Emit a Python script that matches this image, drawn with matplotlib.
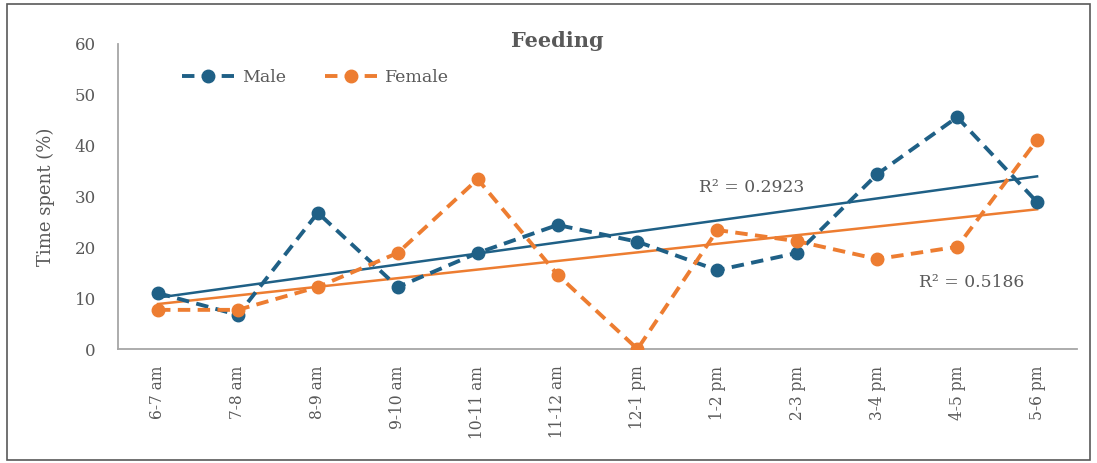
import numpy as np
import matplotlib.pyplot as plt
from matplotlib.patches import Rectangle

hours = ["6-7 am", "7-8 am", "8-9 am", "9-10 am", "10-11 am", "11-12 am",
         "12-1 pm", "1-2 pm", "2-3 pm", "3-4 pm", "4-5 pm", "5-6 pm"]
male = [11.0, 6.7, 26.8, 12.2, 18.9, 24.4, 21.1, 15.5, 18.9, 34.4, 45.6, 28.9]
female = [7.7, 7.7, 12.2, 18.9, 33.4, 14.6, 0.0, 23.4, 21.2, 17.7, 20.1, 41.1]
r2_male = "R² = 0.2923"
r2_female = "R² = 0.5186"

MALE_C = "#1f6086"
FEMALE_C = "#ed7d31"
TXT = "#595959"

plt.rcParams["font.family"] = ["DejaVu Serif"]

fig = plt.figure(figsize=(10.97, 4.63), dpi=100)
ax = fig.add_axes([0.1076, 0.2462, 0.8742, 0.6588])

x = np.arange(len(hours))
ax.plot(x, male, color=MALE_C, lw=2.8, ls=(0, (3.2, 1.9)), marker="o", ms=9, label="Male", zorder=3)
ax.plot(x, female, color=FEMALE_C, lw=2.8, ls=(0, (3.2, 1.9)), marker="o", ms=9, label="Female", zorder=3)

# linear trendlines
for ys, c in [(male, MALE_C), (female, FEMALE_C)]:
    k, b = np.polyfit(x, ys, 1)
    ax.plot(x, k * x + b, color=c, lw=1.8, zorder=2)

ax.text(6.77, 31.8, r2_male, color=TXT, fontsize=12.3, ha="left", va="center")
ax.text(9.52, 13.1, r2_female, color=TXT, fontsize=12.3, ha="left", va="center")

ax.set_xlim(-0.5, 11.5)
ax.set_ylim(0, 60)
ax.set_yticks(range(0, 61, 10))
ax.set_xticks(x)
ax.set_xticklabels(hours, rotation=90, color=TXT, fontsize=11.2)
ax.tick_params(axis="y", colors=TXT, labelsize=12, length=0, pad=16)
ax.tick_params(axis="x", length=0, pad=12)
ax.set_ylabel("Time spent (%)", color=TXT, fontsize=13, labelpad=14)

for s in ["top", "right"]:
    ax.spines[s].set_visible(False)
ax.spines["left"].set_color("#a6a6a6")
ax.spines["bottom"].set_color("#a6a6a6")
ax.spines["left"].set_linewidth(1.3)
ax.spines["bottom"].set_linewidth(1.3)

fig.text(0.508, 0.912, "Feeding", ha="center", va="center", fontsize=15, fontweight="bold", color=TXT)

leg = ax.legend(loc="upper left", bbox_to_anchor=(0.05, 0.97), ncol=2, frameon=False,
                fontsize=12.5, handlelength=3.0, handletextpad=0.5, columnspacing=2.2,
                labelcolor=TXT)

fig.patches.append(Rectangle((0.006, 0.006), 0.988, 0.985, transform=fig.transFigure,
                             fill=False, edgecolor="#595959", lw=1.2))

fig.savefig("out.png", dpi=100)
